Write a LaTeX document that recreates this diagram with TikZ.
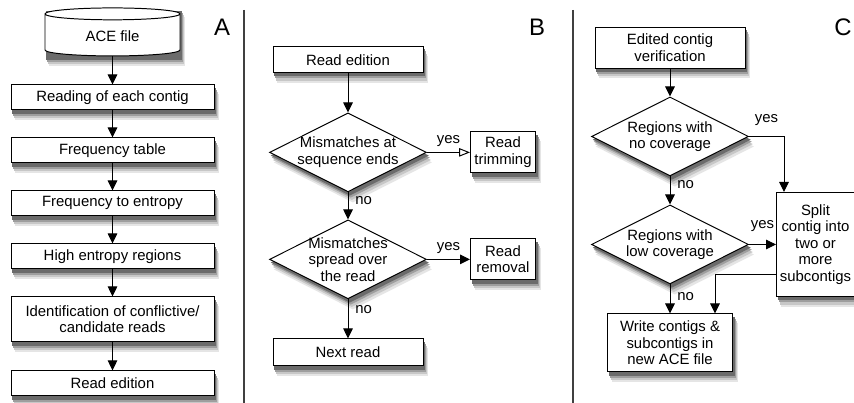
\documentclass[tikz,border=0pt]{standalone}
\usepackage{fontspec}
\setmainfont{Liberation Sans}
\usetikzlibrary{positioning,arrows.meta,shapes.geometric,backgrounds}

\begin{document}
\begin{tikzpicture}[
  x=0.25mm, y=-0.25mm,
  every node/.style={font=\fontsize{10.6}{11.8}\selectfont},
  proc/.style={draw, rectangle, fill=white, align=center, inner sep=2pt, line width=0.7pt},
  wide/.style={proc, minimum width=50.75mm, minimum height=6.25mm},
  file/.style={proc, cylinder, shape border rotate=90, shape aspect=.2,
    minimum width=33.75mm, minimum height=12mm},
  cond/.style={draw, diamond, fill=white, line width=0.7pt, inner sep=0pt,
    minimum width=39.25mm, minimum height=19.75mm},
  ctext/.style={align=center, inner sep=0pt},
  go/.style={-{Triangle[length=2.5mm, width=2.4mm]}, line width=0.7pt},
  goopen/.style={-{Triangle[open, length=2.7mm, width=2.1mm]}, line width=0.7pt},
  ans/.style={inner sep=2pt},
  panel/.style={font=\fontsize{17}{20}\selectfont, inner sep=0pt},
  sep/.style={line width=0.35mm, black!75},
  node distance=6.75mm]

\useasboundingbox (0,0) rectangle (854,403);

% panel letters and dividers
\node[panel] (labA) at (222,27) {A};
\node[panel] (labB) at (537,27) {B};
\node[panel] (labC) at (843,27) {C};
\draw[sep] (244,10) -- (244,403);
\draw[sep] (573,10) -- (573,403);

% A: entropy pipeline
\node[file] (ace) at (112.5,36) {ACE file};
\node[wide, below=7mm of ace] (contig) {Reading of each contig};
\node[wide, below=of contig] (freq) {Frequency table};
\node[wide, below=of freq] (entropy) {Frequency to entropy};
\node[wide, below=of entropy] (high) {High entropy regions};
\node[wide, minimum height=11.25mm, below=of high] (ident) {Identification of conflictive/\\candidate reads};
\node[wide, below=7mm of ident] (edition) {Read edition};
\draw[go] (ace) -- (contig);
\draw[go] (contig) -- (freq);
\draw[go] (freq) -- (entropy);
\draw[go] (entropy) -- (high);
\draw[go] (high) -- (ident);
\draw[go] (ident) -- (edition);

% B: read edition
\node[proc, minimum width=37.5mm, minimum height=6.5mm] (edit) at (348,59.7) {Read edition};
\node[cond, below=9.8mm of edit] (ends) {};
\node[ctext] (ends-t) at (ends) {Mismatches at\\sequence ends};
\node[proc, minimum width=16.25mm, minimum height=10.25mm, right=10.75mm of ends] (trim) {Read\\trimming};
\node[cond, below=of ends] (spread) {};
\node[ctext] (spread-t) at (spread) {Mismatches\\spread over\\the read};
\node[proc, minimum width=16.25mm, minimum height=10.25mm, right=10.75mm of spread] (removal) {Read\\removal};
\node[proc, minimum width=37.5mm, minimum height=6.75mm, below=9.75mm of spread] (nextread) {Next read};
\draw[go] (edit) -- (ends);
\draw[goopen] (ends) -- node[ans, above=.6mm] {yes} (trim);
\draw[go] (ends) -- node[ans, right=1mm, pos=.3] {no} (spread);
\draw[go] (spread) -- node[ans, above=.6mm] {yes} (removal);
\draw[go] (spread) -- node[ans, right=1mm, pos=.25] {no} (nextread);

% C: contig verification
\node[proc, minimum width=37.5mm, minimum height=10.25mm] (verif) at (670,47.5) {Edited contig\\verification};
\node[cond, below=7mm of verif] (nocov) {};
\node[ctext] (nocov-t) at (nocov) {Regions with\\no coverage};
\node[cond, below=7mm of nocov] (lowcov) {};
\node[ctext] (lowcov-t) at (lowcov) {Regions with\\low coverage};
\node[proc, minimum width=19.5mm, minimum height=26mm, right=of lowcov] (split) {Split\\contig into\\two or\\more\\subcontigs};
\node[proc, minimum width=31.25mm, minimum height=14.5mm, below=7.25mm of lowcov] (write) {Write contigs \&\\subcontigs in\\new ACE file};
\draw[go] (verif) -- (nocov);
\draw[go] (nocov.east) -| node[ans, above=2mm, pos=.25] {yes} ([xshift=2mm]split.north west);
\draw[go] (nocov) -- node[ans, right=1mm, pos=.3] {no} (lowcov);
\draw[go] (lowcov) -- node[ans, above=2.5mm] {yes} (split);
\draw[go] (lowcov) -- node[ans, right=1mm, pos=.4] {no} (write);
\draw[go] ([yshift=-7.5mm]split.west) -| ([xshift=-4.5mm]write.north east);

% soft shadows: grey copies of each outline, lightest and farthest first
\begin{scope}[on background layer]
  \fill[white] (0,0) rectangle (854,403);
  \foreach \dx/\dy/\shade in {1.2/2.5/10, .95/1.9/22, .7/1.3/38, .45/.8/58}{
    \foreach \n in {contig,freq,entropy,high,ident,edition,edit,trim,removal,nextread,verif,split,write}
      \fill[black!\shade] ([xshift=\dx mm, yshift=-\dy mm]\n.south west) rectangle ([xshift=\dx mm, yshift=-\dy mm]\n.north east);
    \fill[black!\shade] ([xshift=\dx mm, yshift=-\dy mm]ace.west |- ace.south) rectangle ([xshift=\dx mm, yshift=-\dy mm]ace.east |- ace.north);
    \foreach \n in {ends,spread,nocov,lowcov}
      \fill[black!\shade] ([xshift=\dx mm, yshift=-\dy mm]\n.north) -- ([xshift=\dx mm, yshift=-\dy mm]\n.east)
        -- ([xshift=\dx mm, yshift=-\dy mm]\n.south) -- ([xshift=\dx mm, yshift=-\dy mm]\n.west) -- cycle;
  }
\end{scope}
\end{tikzpicture}
\end{document}
